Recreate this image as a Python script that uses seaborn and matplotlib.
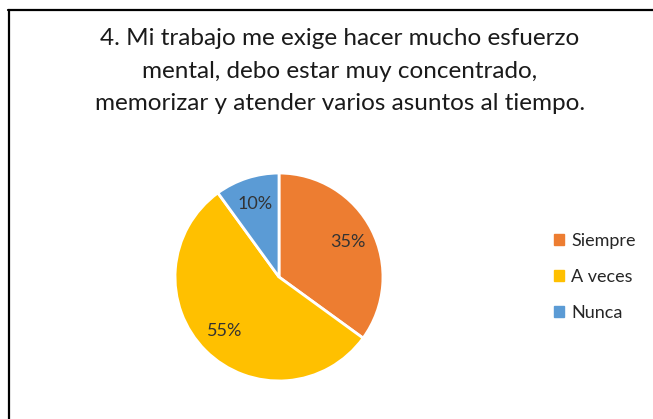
import matplotlib
matplotlib.use("Agg")
import matplotlib.pyplot as plt
import seaborn as sns
from matplotlib.lines import Line2D
from matplotlib.patches import Patch

categorias = ["Siempre", "A veces", "Nunca"]
porcentajes = [35, 55, 10]
colores = ["#ED7D31", "#FFC000", "#5B9BD5"]
titulo = ("4. Mi trabajo me exige hacer mucho esfuerzo\n"
          "mental, debo estar muy concentrado,\n"
          "memorizar y atender varios asuntos al tiempo.")

sns.set_theme(style="white")
plt.rcParams['font.family'] = ['Lato', 'DejaVu Sans']

W, H = 653, 419
fig = plt.figure(figsize=(W / 100, H / 100), dpi=100)
fig.patch.set_facecolor("white")

# marco del gráfico (solo borde superior e izquierdo visibles)
fig.add_artist(Line2D([9 / W, 9 / W], [1 - 10 / H, 0], color="black", lw=1.6, transform=fig.transFigure))
fig.add_artist(Line2D([8 / W, 1], [1 - 10 / H, 1 - 10 / H], color="black", lw=1.6, transform=fig.transFigure))

fig.text(340 / W, 1 - 71 / H, titulo, ha="center", va="center", fontsize=17.5,
         color="#1a1a1a", linespacing=1.7)

r = 105
cx, cy = 279, 277
ax = fig.add_axes([(cx - r) / W, 1 - (cy + r) / H, 2 * r / W, 2 * r / H])
wedges, _, autotexts = ax.pie(porcentajes, colors=colores, startangle=90, counterclock=False,
                              autopct="%1.0f%%", pctdistance=0.74,
                              wedgeprops=dict(edgecolor="white", linewidth=2),
                              textprops=dict(fontsize=13, color="#333333"))
ax.set_xlim(-1.01, 1.01)
ax.set_ylim(-1.01, 1.01)
ax.set_aspect("equal")
ax.axis("off")

handles = [Patch(facecolor=c, edgecolor=c) for c in colores]
fig.legend(handles, categorias, loc="center left", bbox_to_anchor=(538 / W, 1 - 277 / H),
           frameon=False, fontsize=13, handlelength=0.55, handleheight=0.55,
           handletextpad=0.4, labelspacing=1.1)

fig.savefig("out.png", dpi=100)
